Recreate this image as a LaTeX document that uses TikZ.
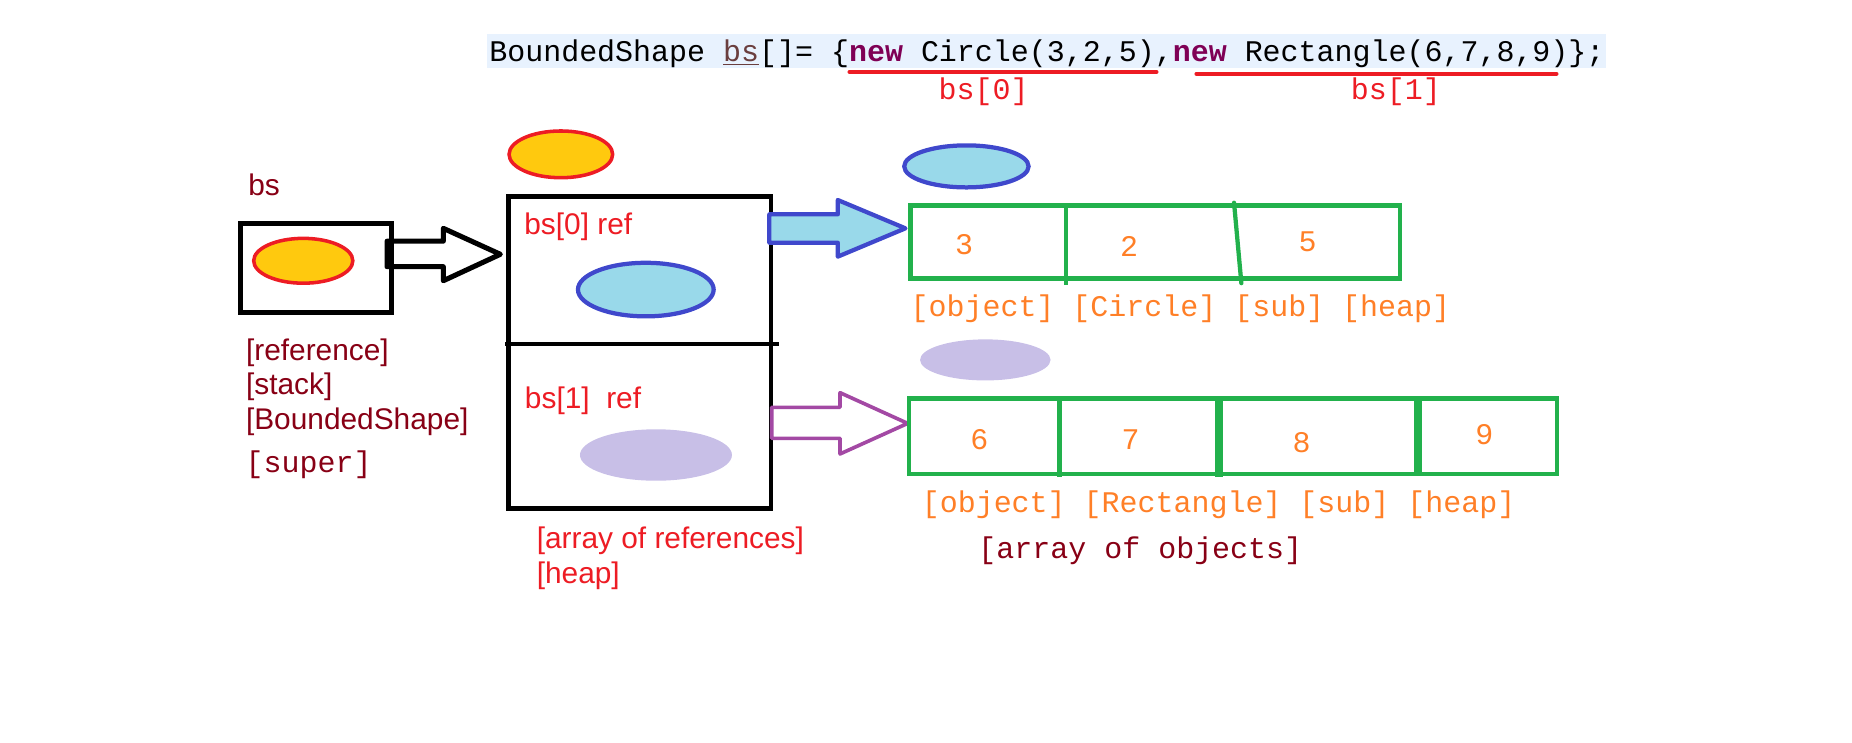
\documentclass[tikz,border=0pt]{standalone}
\usepackage{fontspec}
\setmainfont{Liberation Sans}
\setmonofont{Liberation Mono}
\usepackage{tikz}
\usetikzlibrary{shapes.geometric}

\definecolor{pdarkred}{HTML}{880015}
\definecolor{pred}{HTML}{ED1C24}
\definecolor{pyellow}{HTML}{FFC90E}
\definecolor{pindigo}{HTML}{3F48CC}
\definecolor{pturq}{HTML}{99D9EA}
\definecolor{plav}{HTML}{C8BFE7}
\definecolor{ppurple}{HTML}{A349A4}
\definecolor{pgreen}{HTML}{22B14C}
\definecolor{porange}{HTML}{FF7F27}
\definecolor{codebg}{HTML}{E8F2FE}
\definecolor{kwpurple}{HTML}{7F0055}
\definecolor{varbrown}{HTML}{6A3E3E}

\tikzset{
  lbl/.style={font=\fontsize{25.3}{30}\selectfont, inner sep=0pt, anchor=base west},
  code/.style={font=\ttfamily\fontsize{25.4}{30}\selectfont, inner sep=0pt, anchor=base west},
  blob/.style={ellipse, inner sep=0pt, outer sep=0pt},
  blackbox/.style={draw, line width=4pt, inner sep=0pt, outer sep=0pt},
  cellbox/.style={draw=pgreen, line width=3.8pt, inner sep=0pt, outer sep=0pt},
  num/.style={font=\ttfamily\fontsize{25.4}{30}\selectfont, text=porange, inner sep=0pt},
}

\begin{document}
\begin{tikzpicture}[x=1pt, y=-1pt]
\useasboundingbox (0,0) rectangle (1569.5,629.6);

% declaration line
\fill[codebg] (413,28.7) rectangle (1361,57.9);
\node[code] (decl) at (414.5,52.5) {BoundedShape \textcolor{varbrown}{\underline{bs}}[]= \{\textcolor{kwpurple}{\textbf{new}} Circle(3,2,5),\textcolor{kwpurple}{\textbf{new}} Rectangle(6,7,8,9)\};};
\draw[pred, line width=3.6pt, line cap=round] (720,61) -- (980,61);
\draw[pred, line width=3.6pt, line cap=round] (1014,62.5) -- (1319,62.5);
\node[code, text=pred, anchor=base] (idx0) at (833.5,84.2) {bs[0]};
\node[code, text=pred, anchor=base] (idx1) at (1183,84) {bs[1]};

% stack
\node[lbl, text=pdarkred] (bsname) at (210.3,165.3) {bs};
\node[blackbox, minimum width=128pt, minimum height=75.2pt] (stackbox) at (268,227.1) {};
\node[blob, draw=pred, fill=pyellow, line width=3pt, minimum width=84pt, minimum height=38pt] (stackref) at (257,221) {};
\node[lbl, text=pdarkred] (kind1) at (208.3,305.5) {[reference]};
\node[lbl, text=pdarkred] (kind2) at (208.3,334) {[stack]};
\node[lbl, text=pdarkred] (kind3) at (208.3,364) {[BoundedShape]};
\node[code, text=pdarkred] (kind4) at (208,400) {[super]};

% array of references
\node[blob, draw=pred, fill=pyellow, line width=3pt, minimum width=87.8pt, minimum height=39.6pt] (heapref) at (475.3,130.8) {};
\node[blackbox, minimum width=222.7pt, minimum height=264.1pt] (refarray) at (542.15,298.75) {};
\draw[line width=4pt] (428,291.5) -- (660,291.5);
\node[lbl, text=pred] (ref0) at (444.2,198.6) {bs[0] ref};
\node[blob, draw=pindigo, fill=pturq, line width=3.6pt, minimum width=115pt, minimum height=45.4pt] (ref0dot) at (547.3,245.4) {};
\node[lbl, text=pred] (ref1) at (444.7,346.5) {bs[1]\ \ ref};
\node[blob, fill=plav, minimum width=128.8pt, minimum height=43.6pt] (ref1dot) at (555.9,385.6) {};
\node[lbl, text=pred] (heap1) at (454.7,465) {[array of references]};
\node[lbl, text=pred] (heap2) at (454.7,494.5) {[heap]};

% arrows
\coordinate (tipA) at (424,215.5);
\coordinate (tipB) at (767.3,193.5);
\coordinate (tipC) at (769.2,358.8);
\draw[line width=4.3pt, line join=round] (328,204.4) -- (375.7,204.4) -- (375.7,193.5) -- (tipA) -- (375.7,237.9) -- (375.7,226) -- (328,226) -- cycle;
\draw[draw=pindigo, fill=pturq, line width=3.6pt, line join=round] (652,181.6) -- (710,181.6) -- (710,169.5) -- (tipB) -- (710,217.5) -- (710,205.7) -- (652,205.7) -- cycle;
\draw[draw=ppurple, line width=3.1pt, line join=round] (654,345.2) -- (711.9,345.2) -- (711.9,332.8) -- (tipC) -- (711.9,384.7) -- (711.9,371.5) -- (654,371.5) -- cycle;

% Circle object
\node[blob, draw=pindigo, fill=pturq, line width=3.6pt, minimum width=105.4pt, minimum height=35.6pt] (objCdot) at (819,141) {};
\node[cellbox, minimum width=414.9pt, minimum height=62pt] (objC) at (978.95,205) {};
\draw[pgreen, line width=3.6pt] (903.4,174) -- (903.4,241.5);
\draw[pgreen, line width=3.6pt, line cap=round] (1045.8,171.8) -- (1052,240);
\node[num] (c3) at (817,207.6) {3};
\node[num] (c2) at (956.8,208.5) {2};
\node[num] (c5) at (1108.2,204.8) {5};
\node[code, text=porange] (tagC) at (771.5,268.4) {[object] [Circle] [sub] [heap]};

% Rectangle object
\node[blob, fill=plav, minimum width=110.6pt, minimum height=34.8pt] (objRdot) at (835,305) {};
\node[cellbox, minimum width=549.2pt, minimum height=64pt] (objR) at (1044.9,369.8) {};
\draw[pgreen, line width=4.5pt] (897.7,337.8) -- (897.7,404);
\draw[pgreen, line width=6.5pt] (1033,337.8) -- (1033,404);
\draw[pgreen, line width=7pt] (1202,337.8) -- (1202,401.8);
\node[num] (r6) at (830,372.9) {6};
\node[num] (r7) at (958.2,372.9) {7};
\node[num] (r8) at (1103.1,375.1) {8};
\node[num] (r9) at (1257.9,368.6) {9};
\node[code, text=porange] (tagR) at (781,434.5) {[object] [Rectangle] [sub] [heap]};
\node[code, text=pdarkred] (objarr) at (829,473) {[array of objects]};
\end{tikzpicture}
\end{document}
